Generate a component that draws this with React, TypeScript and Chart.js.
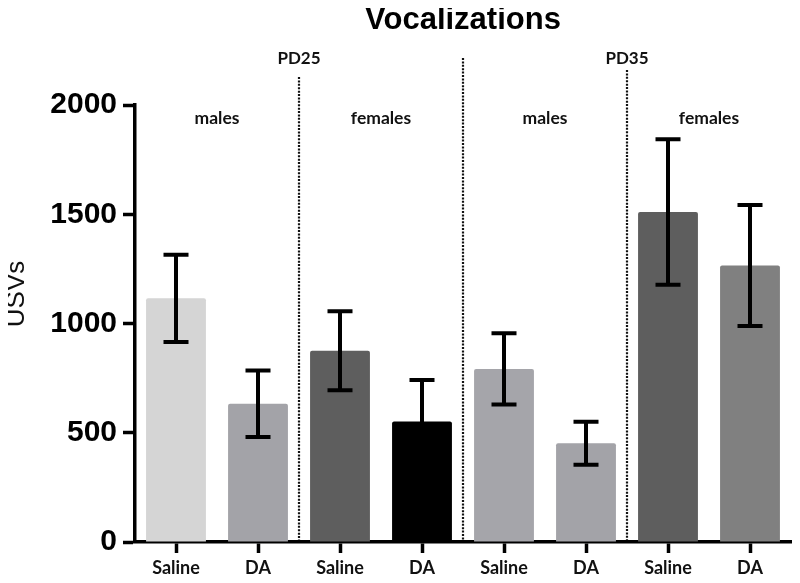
import React, { useEffect, useRef } from 'react';
import { Chart, registerables } from 'chart.js';

Chart.register(...registerables);

const chartTitle = 'Vocalizations';
const yAxisTitle = 'USVs';
const categories = ['Saline', 'DA', 'Saline', 'DA', 'Saline', 'DA', 'Saline', 'DA'];
const means = [1115, 633, 875, 552, 792, 452, 1510, 1265];
const sems = [200, 152, 181, 189, 163, 98, 333, 277];
const barColors = ['#d5d5d5', '#a3a3a8', '#5e5e5e', '#000000', '#a5a5aa', '#a3a3a8', '#5e5e5e', '#808080'];
const yMin = 0;
const yMax = 2000;
const yStep = 500;
const groupLabels = ['males', 'females', 'males', 'females'];
const groupLabelValue = 1940;
const separatorAfter = [1, 3, 5];
const separatorLabels = ['PD25', '', 'PD35'];
const separatorTopValues = [2128, 2215, 2160];
const separatorLabelValue = 2215;

const overlay = {
  id: 'overlay',
  beforeDatasetsDraw(chart: any) {
    const ctx = chart.ctx;
    const xs = chart.scales.x;
    const ys = chart.scales.y;
    ctx.save();
    ctx.strokeStyle = '#111';
    ctx.lineWidth = 2.2;
    ctx.setLineDash([2, 1.4]);
    separatorAfter.forEach((idx, k) => {
      const x = (xs.getPixelForValue(idx) + xs.getPixelForValue(idx + 1)) / 2;
      ctx.beginPath();
      ctx.moveTo(x, ys.getPixelForValue(separatorTopValues[k]));
      ctx.lineTo(x, ys.getPixelForValue(0) - 2);
      ctx.stroke();
    });
    ctx.restore();
  },
  afterDatasetsDraw(chart: any) {
    const ctx = chart.ctx;
    const xs = chart.scales.x;
    const ys = chart.scales.y;
    const meta = chart.getDatasetMeta(0);
    ctx.save();
    // error bars
    ctx.strokeStyle = '#000';
    ctx.lineWidth = 4;
    ctx.setLineDash([]);
    means.forEach((m, i) => {
      const x = meta.data[i].x;
      const yt = ys.getPixelForValue(m + sems[i]);
      const yb = ys.getPixelForValue(m - sems[i]);
      ctx.beginPath();
      ctx.moveTo(x, yt);
      ctx.lineTo(x, yb);
      ctx.moveTo(x - 12.5, yt);
      ctx.lineTo(x + 12.5, yt);
      ctx.moveTo(x - 12.5, yb);
      ctx.lineTo(x + 12.5, yb);
      ctx.stroke();
    });
    // group labels
    ctx.fillStyle = '#111';
    ctx.textAlign = 'center';
    ctx.textBaseline = 'middle';
    ctx.font = 'bold 17.5px Lato';
    groupLabels.forEach((g, k) => {
      const x = (xs.getPixelForValue(2 * k) + xs.getPixelForValue(2 * k + 1)) / 2;
      ctx.fillText(g, x, ys.getPixelForValue(groupLabelValue));
    });
    ctx.font = 'bold 17px Lato';
    separatorAfter.forEach((idx, k) => {
      if (!separatorLabels[k]) return;
      const x = (xs.getPixelForValue(idx) + xs.getPixelForValue(idx + 1)) / 2;
      ctx.fillText(separatorLabels[k], x, ys.getPixelForValue(separatorLabelValue));
    });
    // title
    const ca = chart.chartArea;
    ctx.fillStyle = '#000';
    ctx.textBaseline = 'alphabetic';
    ctx.font = 'bold 31px "Liberation Sans", Arial, sans-serif';
    ctx.fillText(chartTitle, (ca.left + ca.right) / 2, 29);
    // y axis title
    ctx.save();
    ctx.translate(17, 294);
    ctx.rotate(-Math.PI / 2);
    ctx.textBaseline = 'middle';
    ctx.font = '26px "Liberation Sans", Arial, sans-serif';
    ctx.fillStyle = '#111';
    ctx.fillText(yAxisTitle, 0, 0);
    ctx.restore();
    ctx.restore();
  },
};

export default function App() {
  const ref = useRef<HTMLCanvasElement | null>(null);
  useEffect(() => {
    if (!ref.current) return;
    const chart = new Chart(ref.current, {
      type: 'bar',
      data: {
        labels: categories,
        datasets: [
          {
            data: means,
            backgroundColor: barColors,
            borderWidth: 0,
            borderRadius: 2,
            barPercentage: 0.73,
            categoryPercentage: 1,
          },
        ],
      },
      options: {
        animation: false,
        responsive: false,
        layout: { padding: { top: 105, right: 9, left: 0, bottom: 0 } },
        plugins: {
          legend: { display: false },
          tooltip: { enabled: false },
          title: { display: false },
        },
        scales: {
          x: {
            grid: {
              display: true,
              offset: false,
              drawOnChartArea: false,
              drawTicks: true,
              tickLength: 11,
              tickWidth: 3.5,
              tickColor: '#000',
            },
            border: { display: true, width: 3.5, color: '#000' },
            ticks: {
              color: '#111',
              font: { family: 'Lato', weight: 'bold', size: 18 },
              padding: 4,
              maxRotation: 0,
              autoSkip: false,
            },
            afterFit: (s: any) => {
              s.height = 41;
            },
          },
          y: {
            min: yMin,
            max: yMax,
            grid: {
              display: true,
              drawOnChartArea: false,
              drawTicks: true,
              tickLength: 12,
              tickWidth: 3.5,
              tickColor: '#000',
            },
            border: { display: true, width: 3.5, color: '#000' },
            ticks: {
              stepSize: yStep,
              color: '#000',
              font: { family: '"Liberation Sans", Arial, sans-serif', weight: 'bold', size: 30 },
              padding: 6,
              callback: (v: any) => String(v),
            },
            afterFit: (s: any) => {
              s.width = 135;
            },
          },
        },
      },
      plugins: [overlay],
    });
    return () => chart.destroy();
  }, []);
  return (
    <div style={{ position: 'relative', width: 800, height: 583, margin: -8 }}>
      <canvas ref={ref} width={800} height={583} style={{ display: 'block' }} />
    </div>
  );
}
